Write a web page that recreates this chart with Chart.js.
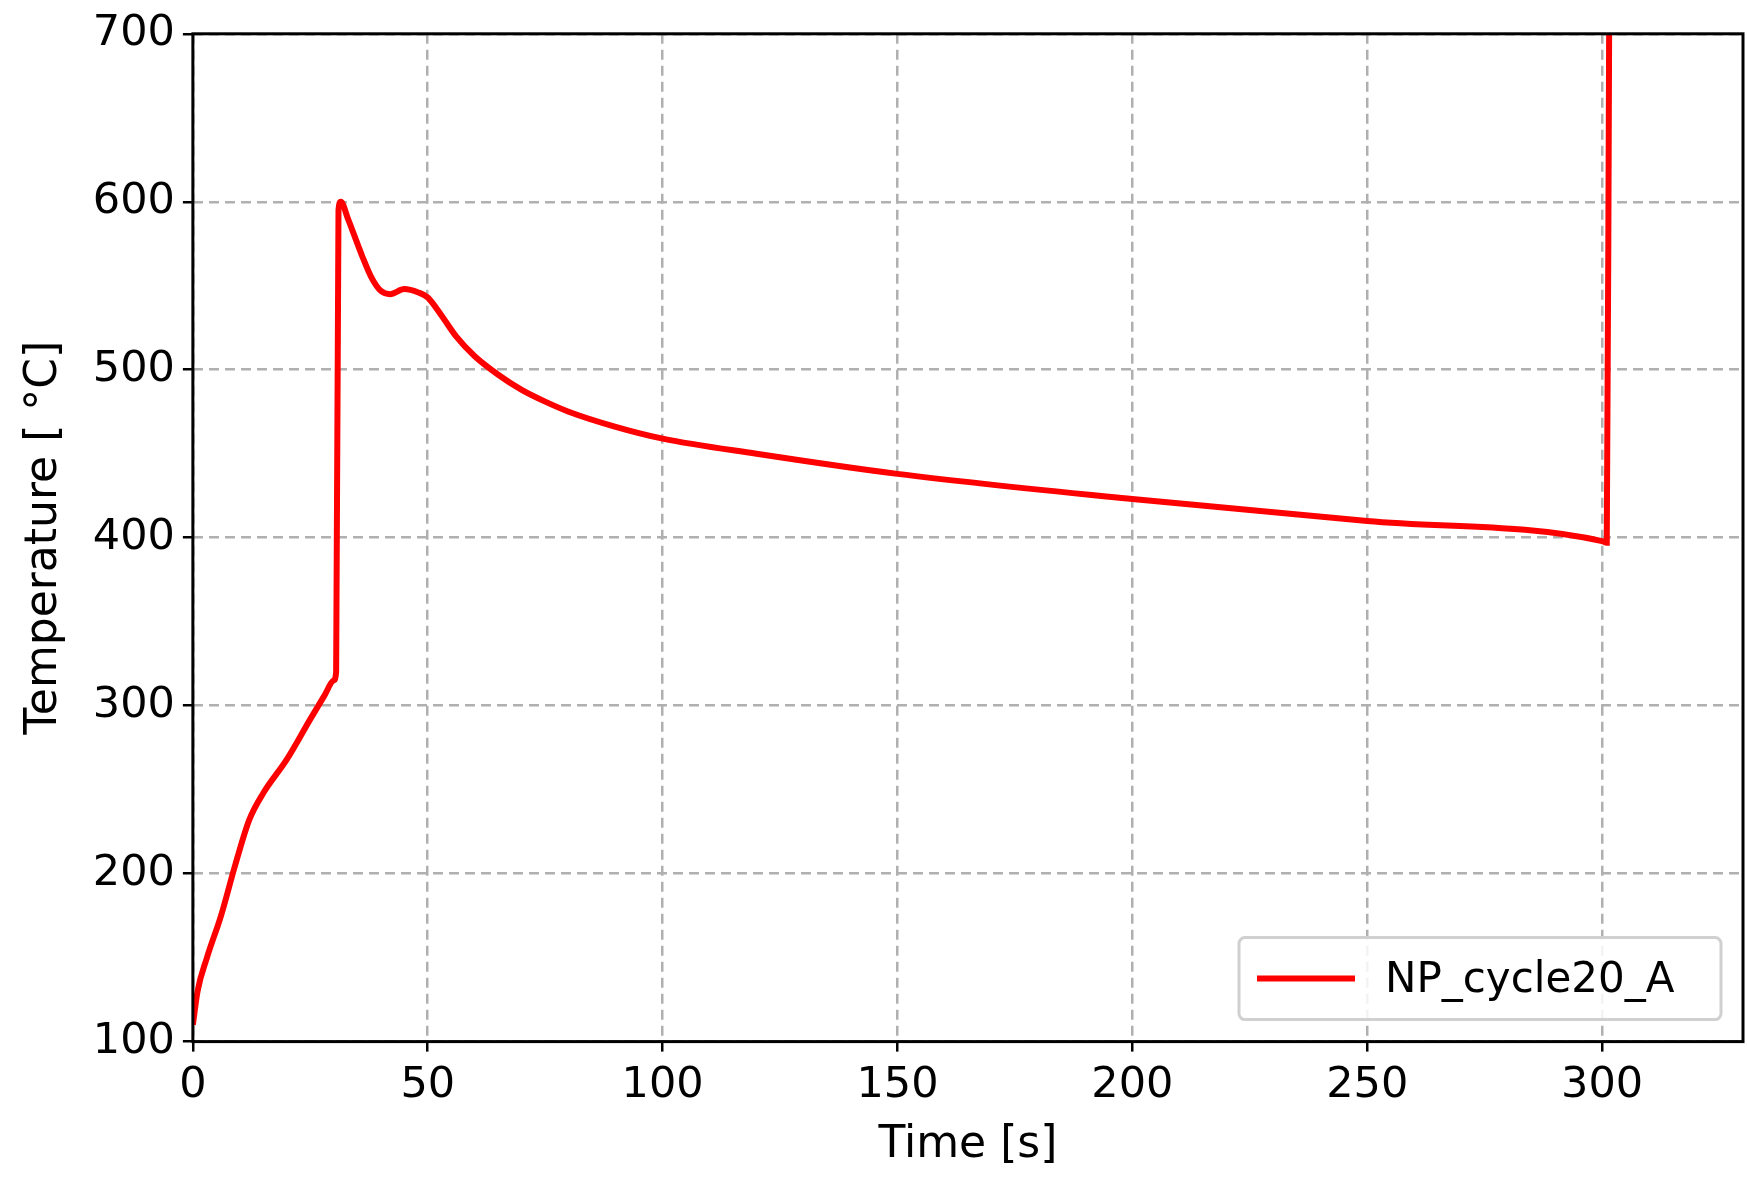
<!DOCTYPE html>
<html><head><meta charset="utf-8">
<script src="https://cdn.jsdelivr.net/npm/chart.js@4.4.0/dist/chart.umd.min.js"></script>
<style>html,body{margin:0;padding:0;background:#fff}#w{width:1747px;height:1184px}</style>
</head><body><div id="w"><canvas id="c"></canvas></div>
<script>
const seriesLabel = "NP_cycle20_A";
const timeS = [0,1,3,6,9,12,15,20,25,28,30,30.5,31,31.5,33,36,38,40,42,45,48,50,53,56,60,65,70,75,80,90,100,120,150,200,250,300,301,301.5];
const tempC = [110,130,150,175,205,232,248,268,292,306,315,320,595,600,590,568,555,547,545,548,546,543,532,520,508,497,488,481,475,466,459,450,438,423,410,398,397,700];
const xTicks = [0,50,100,150,200,250,300];
const yTicks = [100,200,300,400,500,600,700];

const legendInside = {
  id:'legendInside',
  afterDraw(chart){
    const {ctx, chartArea:a} = chart;
    const w=482,h=82, x=a.right-w-22, y=a.bottom-h-22;
    ctx.save();
    ctx.fillStyle='rgba(255,255,255,0.85)';
    ctx.strokeStyle='#d0d0d0'; ctx.lineWidth=3;
    ctx.beginPath(); ctx.roundRect(x,y,w,h,6); ctx.fill(); ctx.stroke();
    ctx.strokeStyle='#ff0000'; ctx.lineWidth=6;
    ctx.beginPath(); ctx.moveTo(x+18,y+h/2); ctx.lineTo(x+116,y+h/2); ctx.stroke();
    ctx.fillStyle='#000'; ctx.font='42px "DejaVu Sans"'; ctx.textBaseline='middle';
    ctx.fillText(seriesLabel,x+146,y+h/2+2);
    ctx.restore();
  }
};
const frame = {id:'frame', afterDatasetsDraw(chart){const {ctx,chartArea:a}=chart;ctx.save();ctx.strokeStyle='#000';ctx.lineWidth=3;ctx.strokeRect(a.left,a.top,a.right-a.left,a.bottom-a.top);ctx.restore();}};

new Chart(document.getElementById('c'),{
  type:'line',
  data:{datasets:[{label:seriesLabel,data:timeS.map((t,i)=>({x:t,y:tempC[i]})),borderColor:'#ff0000',borderWidth:6,pointRadius:0,cubicInterpolationMode:'monotone',fill:false}]},
  options:{
    responsive:true,maintainAspectRatio:false,animation:false,
    layout:{padding:{left:14,right:4,top:30,bottom:8}},
    plugins:{legend:{display:false},tooltip:{enabled:false}},
    scales:{
      x:{type:'linear',min:0,max:330,
        afterBuildTicks(s){s.ticks=xTicks.map(v=>({value:v}));},
        grid:{color:'#b0b0b0',lineWidth:2.5,tickColor:'#000',tickLength:10,drawTicks:true},
        border:{dash:[10,6],display:false},
        ticks:{color:'#000',font:{family:'DejaVu Sans',size:43},padding:8,maxRotation:0},
        title:{display:true,text:'Time [s]',color:'#000',font:{family:'DejaVu Sans',size:44},padding:{top:0}}},
      y:{min:100,max:700,
        afterBuildTicks(s){s.ticks=yTicks.map(v=>({value:v}));},
        grid:{color:'#b0b0b0',lineWidth:2.5,tickColor:'#000',tickLength:10},
        border:{dash:[10,6],display:false},
        ticks:{color:'#000',font:{family:'DejaVu Sans',size:43},padding:8},
        title:{display:true,text:'Temperature [ °C]',color:'#000',font:{family:'DejaVu Sans',size:44},padding:{bottom:14}}}
    }
  },
  plugins:[frame,legendInside]
});
</script></body></html>
